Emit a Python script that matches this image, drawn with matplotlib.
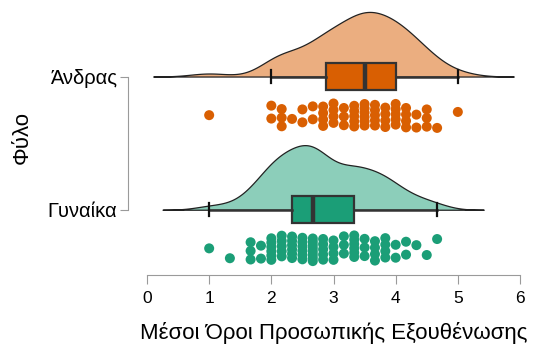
import matplotlib
matplotlib.use("Agg")
import matplotlib.pyplot as plt  # noqa: E402
import numpy as np  # noqa: E402
from matplotlib.colors import to_rgba  # noqa: E402

plt.rcParams["font.family"] = ["Liberation Sans", "DejaVu Sans"]

groups = ["Γυναίκα", "Άνδρας"]
colors = ["#1B9E77", "#D95F02"]

# scores are item means on the 1-6 scale, kept in sixths (value = sixths / 6)
women_sixths = [6, 8, 10, 11, 12, 13, 14, 15, 16, 17, 18, 19, 20, 21, 22, 23, 24, 25, 26, 27, 28]
women_counts = [1, 1, 3, 2, 6, 5, 6, 6, 8, 5, 4, 3, 6, 3, 4, 4, 2, 2, 1, 1, 1]
men_sixths = [6, 12, 13, 14, 15, 16, 17, 18, 19, 20, 21, 22, 23, 24, 25, 26, 27, 28, 30]
men_counts = [1, 2, 3, 1, 2, 2, 4, 4, 3, 5, 6, 5, 4, 5, 4, 2, 3, 1, 1]

# kde bandwidth per group
bandwidths = [0.25, 0.30]

xticks = [0, 1, 2, 3, 4, 5, 6]
xlabel = "Μέσοι Όροι Προσωπικής Εξουθένωσης"
ylabel = "Φύλο"

CLOUD_H = 0.485   # height of the scaled density
BOX_W = 0.2       # box thickness
RAIN_OFF = -0.29  # where the dots sit, relative to the baseline
RAIN_W = 0.097    # half-spread of the dot band
AXIS_GREY = "#9a9a9a"


def _kde(x, bw):
    # gaussian KDE, cut at 3 bandwidths like R's density()
    grid = np.linspace(x.min() - 3 * bw, x.max() + 3 * bw, 512)
    u = (grid[:, None] - x[None, :]) / bw
    dens = np.exp(-0.5 * u ** 2).sum(axis=1) / (len(x) * bw * np.sqrt(2 * np.pi))
    return grid, dens


def _rain(sixths, counts):
    # deterministic jitter: each column spread evenly over the band,
    # with its starting phase stepped by the golden ratio
    xs, offs = [], []
    for k, (v, c) in enumerate(zip(sixths, counts)):
        phase = (k * 0.6180339887) % 1.0
        for j in range(c):
            u = ((j + 0.5) / c + phase) % 1.0
            xs.append(v / 6.0)
            offs.append((u * 2 - 1) * RAIN_W)
    return np.array(xs), np.array(offs)


data = [(women_sixths, women_counts), (men_sixths, men_counts)]

fig = plt.figure(figsize=(5.35, 3.49), dpi=100)
ax = fig.add_axes([147 / 535, 1 - 275 / 349, 373 / 535, 270 / 349])

for i, ((sixths, counts), c, bw) in enumerate(zip(data, colors, bandwidths)):
    x = np.repeat(np.array(sixths) / 6.0, counts)

    grid, dens = _kde(x, bw)
    ax.fill_between(grid, i, i + dens / dens.max() * CLOUD_H,
                    facecolor=to_rgba(c, 0.5), edgecolor="#222222", lw=0.9, zorder=1)

    ax.boxplot(x, positions=[i], orientation="horizontal", widths=BOX_W,
               capwidths=0.1, whis=1.5, showfliers=False, patch_artist=True,
               manage_ticks=False,
               boxprops=dict(facecolor=c, edgecolor="#333333", lw=1.6),
               medianprops=dict(color="#333333", lw=3.2),
               whiskerprops=dict(color="#333333", lw=1.8),
               capprops=dict(color="#111111", lw=1.6),
               zorder=2)

    rx, ry = _rain(sixths, counts)
    ax.scatter(rx, i + RAIN_OFF + ry, s=52, color=c, edgecolors="none", zorder=3)

ax.set_xlim(0, 6)
ax.set_ylim(-0.49, 1.537)

for side in ("top", "right"):
    ax.spines[side].set_visible(False)
ax.spines["left"].set_bounds(0, 1)
ax.spines["left"].set_position(("outward", 13.7))
ax.spines["bottom"].set_bounds(0, 6)
for side in ("left", "bottom"):
    ax.spines[side].set_color(AXIS_GREY)
    ax.spines[side].set_linewidth(0.8)

ax.set_xticks(xticks)
ax.set_xticklabels([str(t) for t in xticks], fontsize=12.5)
ax.set_yticks([0, 1])
ax.set_yticklabels(groups, fontsize=14.5)
ax.tick_params(axis="x", length=6.5, width=0.8, color=AXIS_GREY, pad=5)
ax.tick_params(axis="y", length=5.8, width=0.8, color=AXIS_GREY, pad=2)

ax.set_xlabel(xlabel, fontsize=16)
ax.xaxis.set_label_coords(0.5, -0.175)
ax.set_ylabel(ylabel, fontsize=16)
ax.yaxis.set_label_coords(-0.305, 0.51)

fig.savefig("out.png", dpi=100)
